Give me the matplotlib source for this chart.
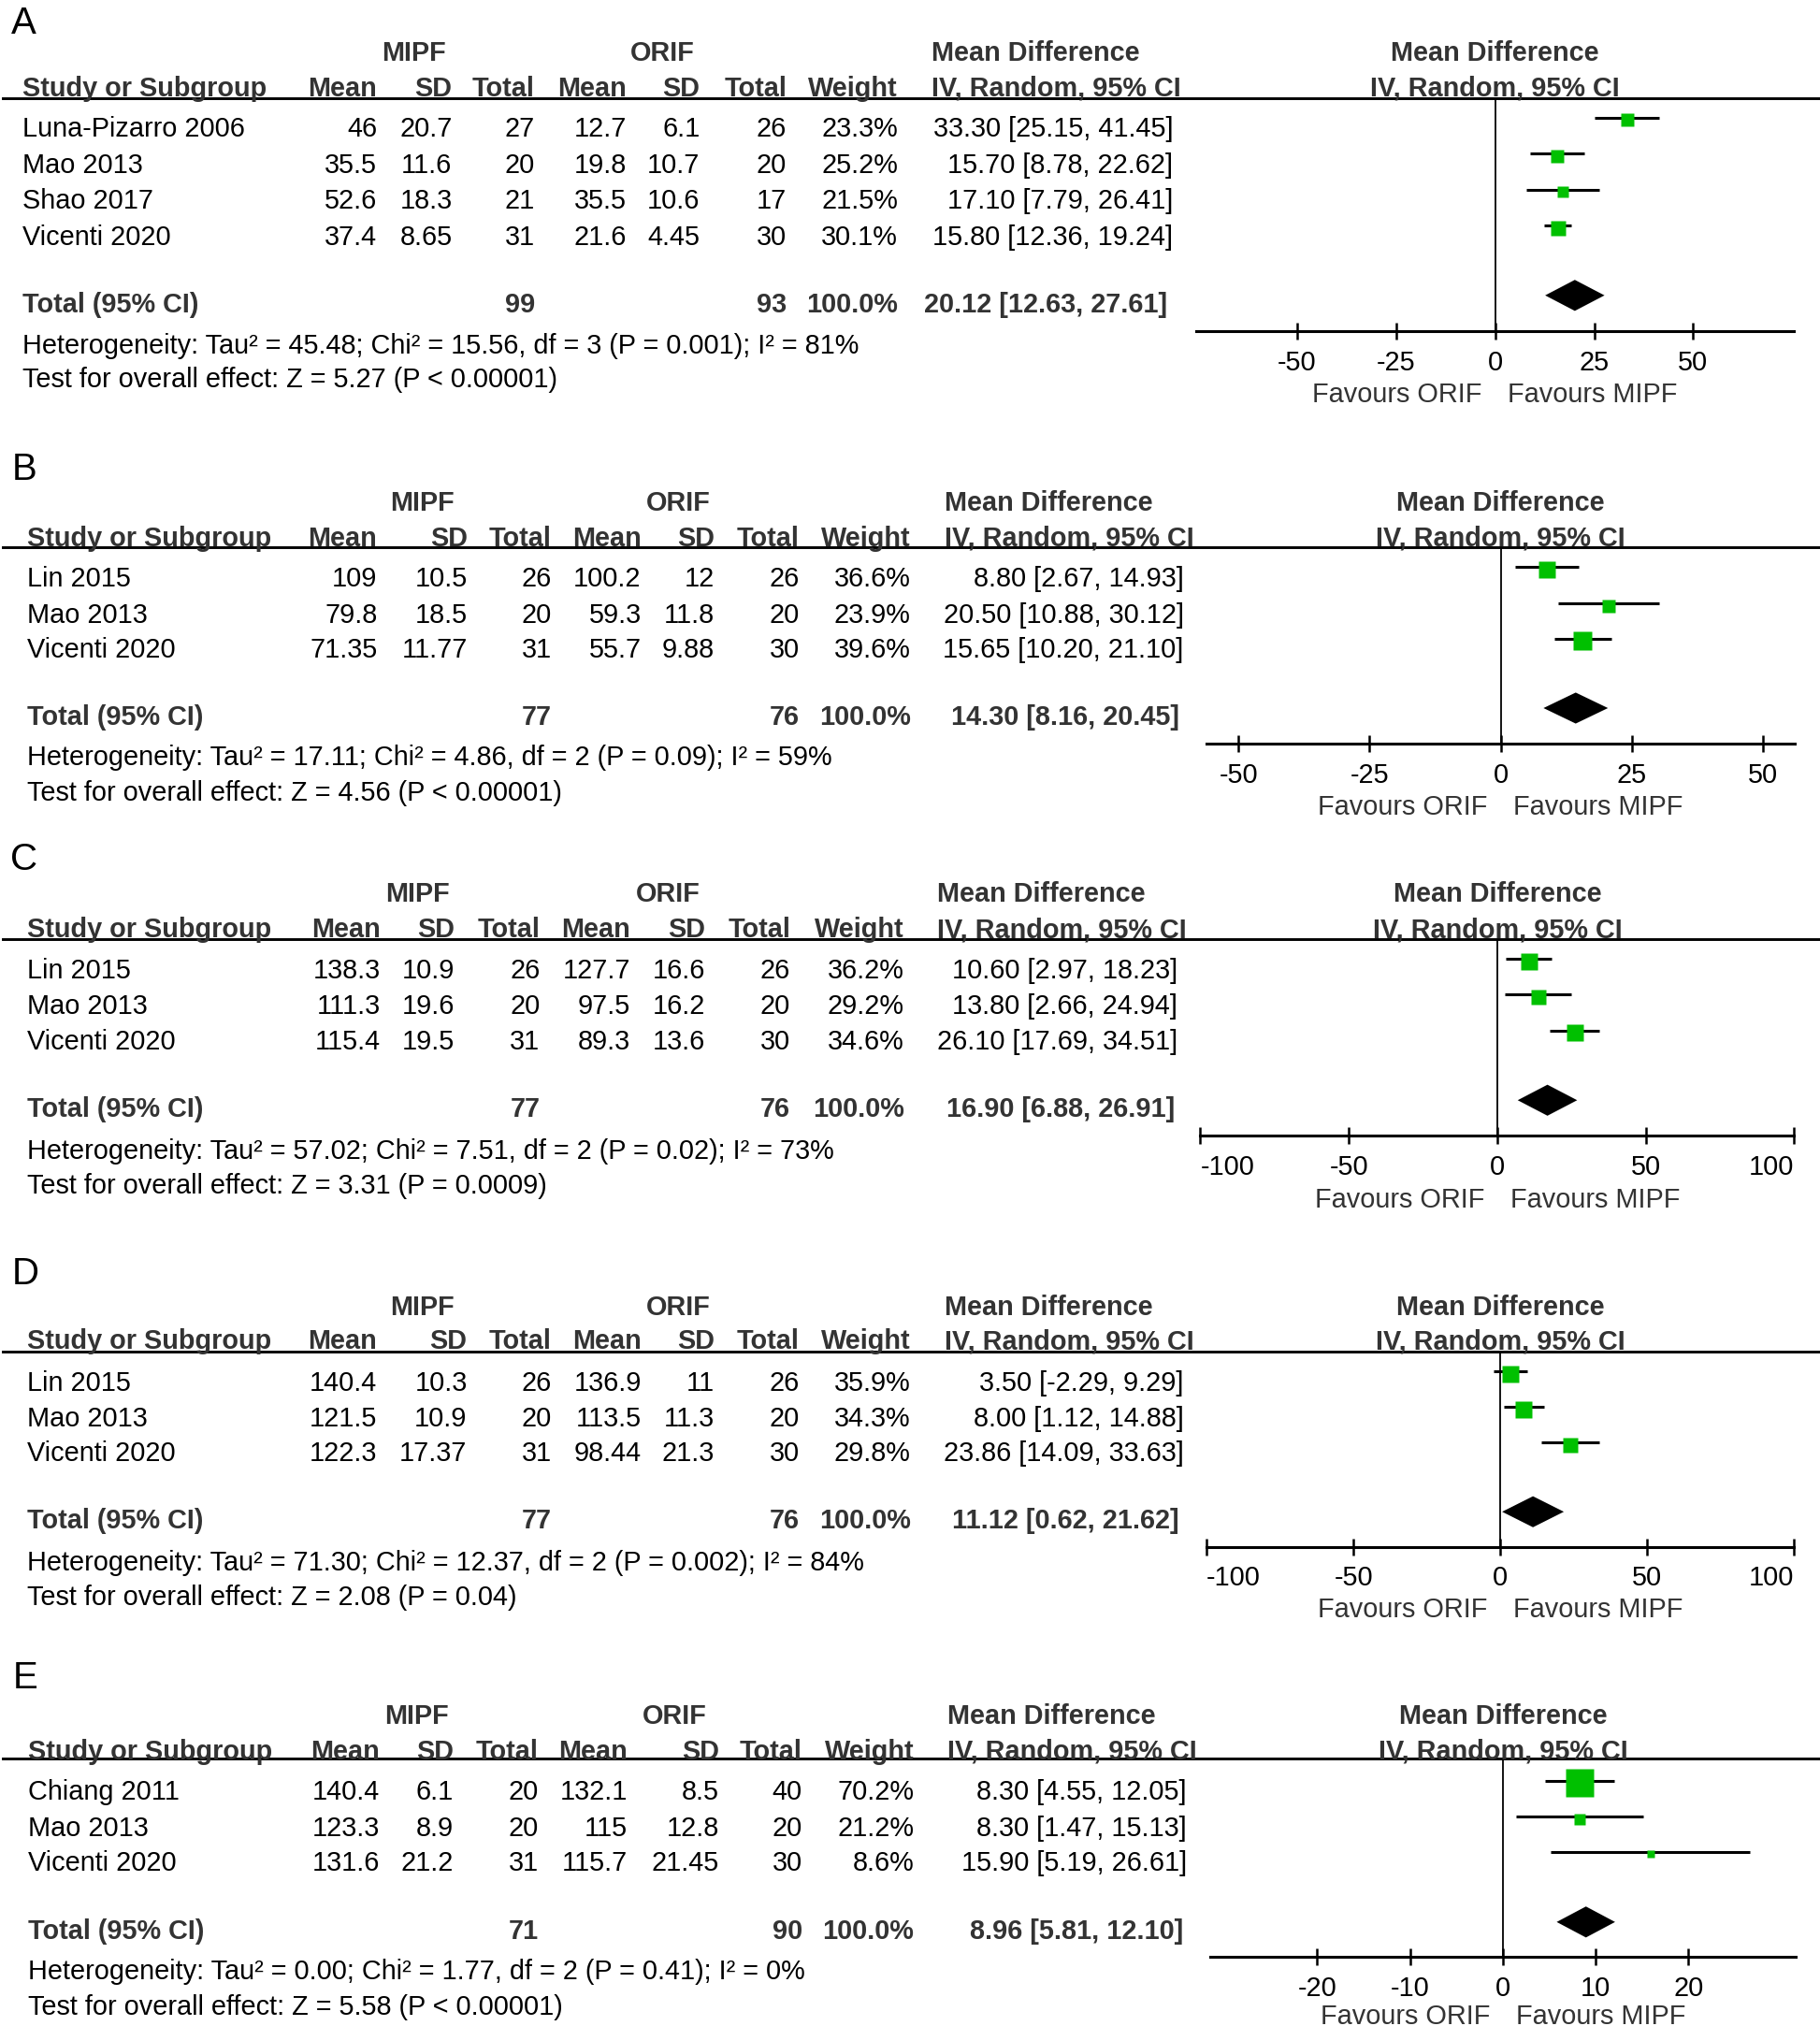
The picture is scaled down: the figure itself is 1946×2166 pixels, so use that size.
import matplotlib
matplotlib.use("Agg")
import matplotlib.pyplot as plt
from matplotlib.transforms import Affine2D
from matplotlib.lines import Line2D

plt.rcParams['font.family'] = ['Liberation Sans', 'DejaVu Sans']
plt.rcParams['axes.unicode_minus'] = False

# ------------------------------------------------------------------ data
A_studies = ["Luna-Pizarro 2006", "Mao 2013", "Shao 2017", "Vicenti 2020"]
A_mipf_mean = [46, 35.5, 52.6, 37.4]
A_mipf_sd = [20.7, 11.6, 18.3, 8.65]
A_mipf_n = [27, 20, 21, 31]
A_orif_mean = [12.7, 19.8, 35.5, 21.6]
A_orif_sd = [6.1, 10.7, 10.6, 4.45]
A_orif_n = [26, 20, 17, 30]
A_weight = [23.3, 25.2, 21.5, 30.1]
A_md = [33.30, 15.70, 17.10, 15.80]
A_lo = [25.15, 8.78, 7.79, 12.36]
A_hi = [41.45, 22.62, 26.41, 19.24]
A_total = [20.12, 12.63, 27.61]
A_total_n = [99, 93]
A_total_weight = 100.0
A_het = "Heterogeneity: Tau² = 45.48; Chi² = 15.56, df = 3 (P = 0.001); I² = 81%"
A_test = "Test for overall effect: Z = 5.27 (P < 0.00001)"
A_ticks = [-50, -25, 0, 25, 50]

B_studies = ["Lin 2015", "Mao 2013", "Vicenti 2020"]
B_mipf_mean = [109, 79.8, 71.35]
B_mipf_sd = [10.5, 18.5, 11.77]
B_mipf_n = [26, 20, 31]
B_orif_mean = [100.2, 59.3, 55.7]
B_orif_sd = [12, 11.8, 9.88]
B_orif_n = [26, 20, 30]
B_weight = [36.6, 23.9, 39.6]
B_md = [8.80, 20.50, 15.65]
B_lo = [2.67, 10.88, 10.20]
B_hi = [14.93, 30.12, 21.10]
B_total = [14.30, 8.16, 20.45]
B_total_n = [77, 76]
B_total_weight = 100.0
B_het = "Heterogeneity: Tau² = 17.11; Chi² = 4.86, df = 2 (P = 0.09); I² = 59%"
B_test = "Test for overall effect: Z = 4.56 (P < 0.00001)"
B_ticks = [-50, -25, 0, 25, 50]

C_studies = ["Lin 2015", "Mao 2013", "Vicenti 2020"]
C_mipf_mean = [138.3, 111.3, 115.4]
C_mipf_sd = [10.9, 19.6, 19.5]
C_mipf_n = [26, 20, 31]
C_orif_mean = [127.7, 97.5, 89.3]
C_orif_sd = [16.6, 16.2, 13.6]
C_orif_n = [26, 20, 30]
C_weight = [36.2, 29.2, 34.6]
C_md = [10.60, 13.80, 26.10]
C_lo = [2.97, 2.66, 17.69]
C_hi = [18.23, 24.94, 34.51]
C_total = [16.90, 6.88, 26.91]
C_total_n = [77, 76]
C_total_weight = 100.0
C_het = "Heterogeneity: Tau² = 57.02; Chi² = 7.51, df = 2 (P = 0.02); I² = 73%"
C_test = "Test for overall effect: Z = 3.31 (P = 0.0009)"
C_ticks = [-100, -50, 0, 50, 100]

D_studies = ["Lin 2015", "Mao 2013", "Vicenti 2020"]
D_mipf_mean = [140.4, 121.5, 122.3]
D_mipf_sd = [10.3, 10.9, 17.37]
D_mipf_n = [26, 20, 31]
D_orif_mean = [136.9, 113.5, 98.44]
D_orif_sd = [11, 11.3, 21.3]
D_orif_n = [26, 20, 30]
D_weight = [35.9, 34.3, 29.8]
D_md = [3.50, 8.00, 23.86]
D_lo = [-2.29, 1.12, 14.09]
D_hi = [9.29, 14.88, 33.63]
D_total = [11.12, 0.62, 21.62]
D_total_n = [77, 76]
D_total_weight = 100.0
D_het = "Heterogeneity: Tau² = 71.30; Chi² = 12.37, df = 2 (P = 0.002); I² = 84%"
D_test = "Test for overall effect: Z = 2.08 (P = 0.04)"
D_ticks = [-100, -50, 0, 50, 100]

E_studies = ["Chiang 2011", "Mao 2013", "Vicenti 2020"]
E_mipf_mean = [140.4, 123.3, 131.6]
E_mipf_sd = [6.1, 8.9, 21.2]
E_mipf_n = [20, 20, 31]
E_orif_mean = [132.1, 115, 115.7]
E_orif_sd = [8.5, 12.8, 21.45]
E_orif_n = [40, 20, 30]
E_weight = [70.2, 21.2, 8.6]
E_md = [8.30, 8.30, 15.90]
E_lo = [4.55, 1.47, 5.19]
E_hi = [12.05, 15.13, 26.61]
E_total = [8.96, 5.81, 12.10]
E_total_n = [71, 90]
E_total_weight = 100.0
E_het = "Heterogeneity: Tau² = 0.00; Chi² = 1.77, df = 2 (P = 0.41); I² = 0%"
E_test = "Test for overall effect: Z = 5.58 (P < 0.00001)"
E_ticks = [-20, -10, 0, 10, 20]

GROUP_LABELS = ["MIPF", "ORIF"]
COL_HEADERS = ["Mean", "SD", "Total", "Mean", "SD", "Total", "Weight"]
FAVOURS = ["Favours ORIF", "Favours MIPF"]

PANELS = [
    dict(label="A", studies=A_studies, m1=A_mipf_mean, s1=A_mipf_sd, n1=A_mipf_n,
         m2=A_orif_mean, s2=A_orif_sd, n2=A_orif_n, w=A_weight, md=A_md, lo=A_lo,
         hi=A_hi, tot=A_total, totn=A_total_n, totw=A_total_weight, het=A_het,
         test=A_test, ticks=A_ticks),
    dict(label="B", studies=B_studies, m1=B_mipf_mean, s1=B_mipf_sd, n1=B_mipf_n,
         m2=B_orif_mean, s2=B_orif_sd, n2=B_orif_n, w=B_weight, md=B_md, lo=B_lo,
         hi=B_hi, tot=B_total, totn=B_total_n, totw=B_total_weight, het=B_het,
         test=B_test, ticks=B_ticks),
    dict(label="C", studies=C_studies, m1=C_mipf_mean, s1=C_mipf_sd, n1=C_mipf_n,
         m2=C_orif_mean, s2=C_orif_sd, n2=C_orif_n, w=C_weight, md=C_md, lo=C_lo,
         hi=C_hi, tot=C_total, totn=C_total_n, totw=C_total_weight, het=C_het,
         test=C_test, ticks=C_ticks),
    dict(label="D", studies=D_studies, m1=D_mipf_mean, s1=D_mipf_sd, n1=D_mipf_n,
         m2=D_orif_mean, s2=D_orif_sd, n2=D_orif_n, w=D_weight, md=D_md, lo=D_lo,
         hi=D_hi, tot=D_total, totn=D_total_n, totw=D_total_weight, het=D_het,
         test=D_test, ticks=D_ticks),
    dict(label="E", studies=E_studies, m1=E_mipf_mean, s1=E_mipf_sd, n1=E_mipf_n,
         m2=E_orif_mean, s2=E_orif_sd, n2=E_orif_n, w=E_weight, md=E_md, lo=E_lo,
         hi=E_hi, tot=E_total, totn=E_total_n, totw=E_total_weight, het=E_het,
         test=E_test, ticks=E_ticks),
]

# ------------------------------------------------------------------ layout (reference px, 1409 x 1568 frame)
LAYOUT = [
    dict(lx=8.3, label_y=15.3, grp_y=39.5, hdr_y=67, line_y=76.3,
         rows=[98.5, 126.4, 154.2, 182.2], total_y=234.1, het_y=266, test_y=292.5,
         axis_y=256.5, sx=17.5, cols=[292, 350, 414, 485, 542, 609, 695],
         ci_left=721, ci_right=908, tot_ci_right=904, mipf_x=320, orif_x=513,
         x0=926, x1=1389, xlim=(-75.5, 75.5), inward=False, fav_dy=47.2),
    dict(lx=9, label_y=360.8, grp_y=387.4, hdr_y=415, line_y=423.6,
         rows=[446.5, 474.3, 501.6], total_y=553.5, het_y=585, test_y=612,
         axis_y=575.7, sx=20.8, cols=[292, 362, 427, 496.5, 553, 619, 705],
         ci_left=731, ci_right=916.4, tot_ci_right=913, mipf_x=326.8, orif_x=525,
         x0=934, x1=1389.6, xlim=(-56.1, 56.1), inward=False, fav_dy=47.2),
    dict(lx=8.3, label_y=662.6, grp_y=690.3, hdr_y=718, line_y=727,
         rows=[749.5, 777, 805], total_y=857, het_y=889.4, test_y=916,
         axis_y=879, sx=20.8, cols=[294.7, 352, 418, 488, 546, 612, 700],
         ci_left=725.7, ci_right=911.7, tot_ci_right=909.5, mipf_x=323, orif_x=517,
         x0=929.3, x1=1389, xlim=(-100, 100), inward=True, fav_dy=48.0),
    dict(lx=9, label_y=983.6, grp_y=1010, hdr_y=1036.7, line_y=1045.9,
         rows=[1068.8, 1096.5, 1123.6], total_y=1175.5, het_y=1208, test_y=1234.6,
         axis_y=1197, sx=20.8, cols=[292, 361.7, 427, 496.5, 553, 619, 705],
         ci_left=731, ci_right=916.4, tot_ci_right=913, mipf_x=326.6, orif_x=525,
         x0=934, x1=1389, xlim=(-100, 100), inward=True, fav_dy=47.5),
    dict(lx=10, label_y=1296, grp_y=1326.4, hdr_y=1354, line_y=1361.3,
         rows=[1385.5, 1413.2, 1440.5], total_y=1493, het_y=1524.3, test_y=1552,
         axis_y=1514.6, sx=22, cols=[294, 351, 417, 486, 556.6, 621, 707.6],
         ci_left=733.7, ci_right=918.6, tot_ci_right=916.4, mipf_x=322.6, orif_x=522,
         x0=937, x1=1390.5, xlim=(-31.5, 31.6), inward=False, fav_dy=44.5),
]

W, H = 1409.0, 1568.0
FS = 20.8
BASE = 7.5
DARK = '#333333'
GREEN = '#00C000'
PX2PT = 72.0 / 100.0 * 1946.0 / 1409.0   # reference px -> points

fig = plt.figure(figsize=(19.46, 21.66), dpi=100)
T = Affine2D().scale(1 / W, -1 / H).translate(0, 1) + fig.transFigure


def txt(x, y, s, ha='left', bold=False, color=None, size=FS):
    if color is None:
        color = DARK if bold else 'black'
    fig.text(x, y + BASE * size / FS, s, transform=T, ha=ha, va='baseline',
             fontsize=size, fontweight='bold' if bold else 'normal', color=color)


def fmt(v):
    return '{:g}'.format(v)


for P, L in zip(PANELS, LAYOUT):
    cols = L['cols']
    pc = (L['x0'] + L['x1']) / 2
    txt(L['lx'], L['label_y'], P['label'], size=29, color='black')
    # group headers
    txt(L['mipf_x'], L['grp_y'], GROUP_LABELS[0], ha='center', bold=True)
    txt(L['orif_x'], L['grp_y'], GROUP_LABELS[1], ha='center', bold=True)
    txt(L['ci_left'], L['grp_y'], "Mean Difference", bold=True)
    txt(pc, L['grp_y'], "Mean Difference", ha='center', bold=True)
    # column headers
    txt(L['sx'], L['hdr_y'], "Study or Subgroup", bold=True)
    for cx, h in zip(cols, COL_HEADERS):
        txt(cx, L['hdr_y'], h, ha='right', bold=True)
    txt(L['ci_left'], L['hdr_y'], "IV, Random, 95% CI", bold=True)
    txt(pc, L['hdr_y'], "IV, Random, 95% CI", ha='center', bold=True)
    fig.add_artist(Line2D([2, W], [L['line_y'], L['line_y']], transform=T,
                          color='black', lw=2.1))
    # study rows
    for i, name in enumerate(P['studies']):
        y = L['rows'][i]
        txt(L['sx'], y, name)
        vals = [fmt(P['m1'][i]), fmt(P['s1'][i]), str(P['n1'][i]),
                fmt(P['m2'][i]), fmt(P['s2'][i]), str(P['n2'][i]),
                '{:.1f}%'.format(P['w'][i])]
        for cx, v in zip(cols, vals):
            txt(cx, y, v, ha='right')
        txt(L['ci_right'], y, '{:.2f} [{:.2f}, {:.2f}]'.format(P['md'][i], P['lo'][i], P['hi'][i]),
            ha='right')
    # total row
    ty = L['total_y']
    txt(L['sx'], ty, "Total (95% CI)", bold=True)
    txt(cols[2], ty, str(P['totn'][0]), ha='right', bold=True)
    txt(cols[5], ty, str(P['totn'][1]), ha='right', bold=True)
    txt(cols[6], ty, '{:.1f}%'.format(P['totw']), ha='right', bold=True)
    txt(L['tot_ci_right'], ty, '{:.2f} [{:.2f}, {:.2f}]'.format(*P['tot']), ha='right', bold=True)
    txt(L['sx'], L['het_y'], P['het'])
    txt(L['sx'], L['test_y'], P['test'])

    # forest plot
    ax = fig.add_axes([L['x0'] / W, 1 - L['axis_y'] / H, (L['x1'] - L['x0']) / W,
                       (L['axis_y'] - L['line_y']) / H])
    ax.patch.set_alpha(0)
    ax.set_xlim(*L['xlim'])
    ax.set_ylim(L['axis_y'], L['line_y'])
    for s in ['top', 'right', 'left']:
        ax.spines[s].set_visible(False)
    ax.spines['bottom'].set_linewidth(2.2)
    ax.set_yticks([])
    ax.set_xticks(P['ticks'])
    ax.set_xticklabels([str(t) for t in P['ticks']])
    ax.tick_params(axis='x', direction='inout', length=13, width=1.8,
                   labelsize=FS, pad=7.5, colors='black')
    if L['inward']:
        labs = ax.get_xticklabels()
        labs[0].set_ha('left')
        labs[-1].set_ha('right')
    ax.axvline(0, color='black', lw=1.3, zorder=1)
    for i in range(len(P['studies'])):
        yl = L['rows'][i] - 7.5
        ax.plot([P['lo'][i], P['hi'][i]], [yl, yl], color='black', lw=2.2,
                solid_capstyle='butt', zorder=2)
        side_pt = (4.8 + 0.373 * P['w'][i]) * 0.72
        ax.plot([P['md'][i]], [yl + 2], marker='s', ms=side_pt, color=GREEN,
                mec='none', zorder=3)
    md, lo, hi = P['tot']
    yc = ty - 5.5
    hh = 12
    ax.fill([lo, md, hi, md], [yc, yc - hh, yc, yc + hh], color='black', lw=0, zorder=3)
    fdy = -(L['fav_dy'] + BASE) * PX2PT
    ax.annotate(FAVOURS[0], xy=(0, 0), xycoords=('data', 'axes fraction'),
                xytext=(-10 * PX2PT, fdy), textcoords='offset points', ha='right',
                va='baseline', fontsize=FS, color=DARK, annotation_clip=False)
    ax.annotate(FAVOURS[1], xy=(0, 0), xycoords=('data', 'axes fraction'),
                xytext=(10 * PX2PT, fdy), textcoords='offset points', ha='left',
                va='baseline', fontsize=FS, color=DARK, annotation_clip=False)

fig.savefig('out.png', dpi=100)
